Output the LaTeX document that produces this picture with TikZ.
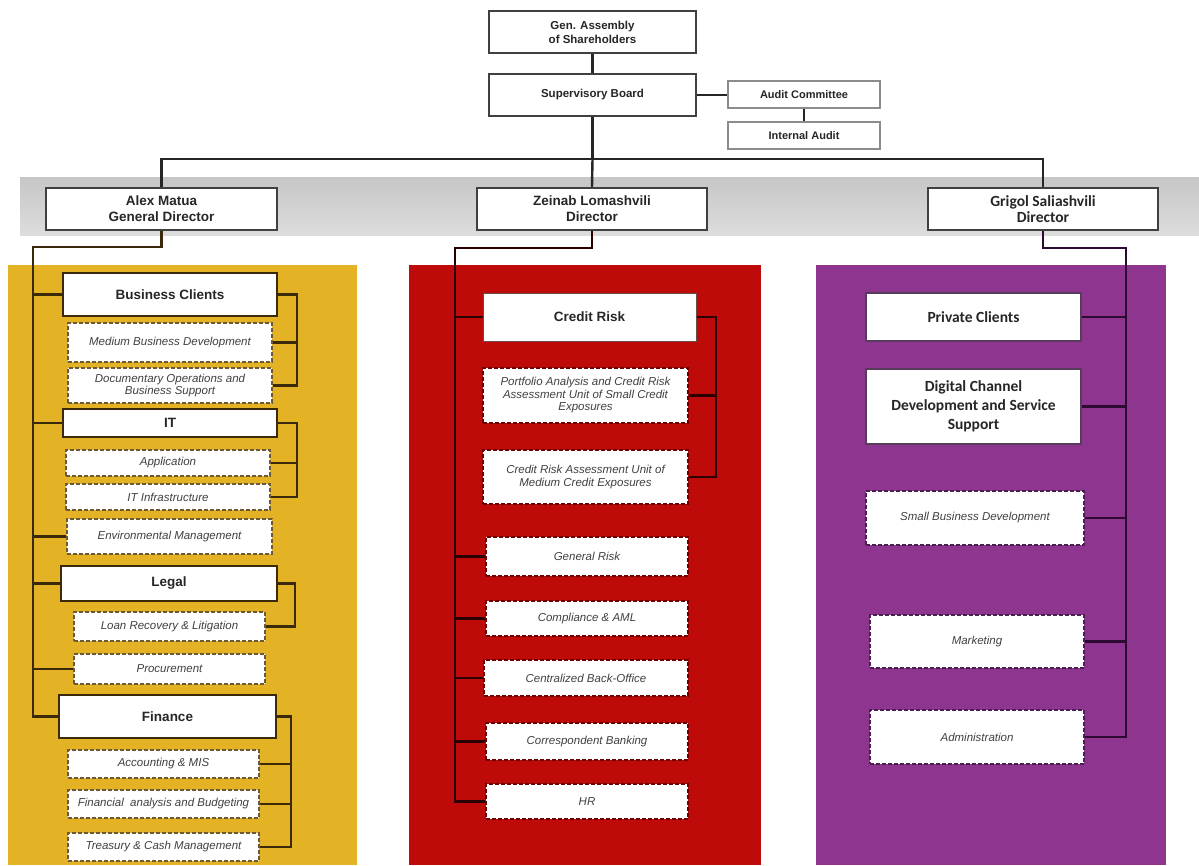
\documentclass[tikz,border=0pt]{standalone}
\usepackage{fontspec}
\setmainfont{Liberation Sans}
\newfontfamily\carl{Carlito}
\definecolor{panY}{HTML}{E3B325}
\definecolor{panR}{HTML}{BF0A0A}
\definecolor{panP}{HTML}{8E358F}
\definecolor{lnY}{HTML}{3B2A0A}
\definecolor{lnR}{HTML}{2A0000}
\definecolor{lnP}{HTML}{2D0A33}
\definecolor{dashY}{HTML}{6B5A3A}
\definecolor{dashR}{HTML}{6A0000}
\definecolor{dashP}{HTML}{4A2050}
\definecolor{txt}{HTML}{404040}
\definecolor{bandTop}{HTML}{C6C6C6}
\definecolor{bandBot}{HTML}{DDDDDD}
\newcommand\orgbox[7]{\node[#2, minimum width={#5-#3}, minimum height={#6-#4}] (#1) at ({(#3+#5)/2},{(#4+#6)/2}) {#7};}
\begin{document}
\begin{tikzpicture}[x=1pt,y=-1pt,
  topbox/.style={draw=black!75, line width=2.5pt, fill=white, inner sep=0pt, align=center, text=black!85, font=\bfseries\fontsize{11.5}{14}\selectfont},
  auditbox/.style={draw=black!45, line width=1.4pt, fill=white, inner sep=0pt, text=black!85, font=\bfseries\fontsize{11}{13}\selectfont},
  dirbox/.style={draw=black!75, line width=2.2pt, fill=white, inner sep=0pt, align=center, text=black!85, font=\bfseries\fontsize{13.5}{16}\selectfont},
  headY/.style={draw=lnY, line width=2pt, fill=white, inner sep=0pt, text=black!85, font=\bfseries\fontsize{13.5}{16}\selectfont},
  headR/.style={draw=lnR!70, line width=1pt, fill=white, inner sep=0pt, text=black!85, font=\bfseries\fontsize{13.5}{16}\selectfont},
  headP/.style={draw=lnP!80, line width=1.2pt, fill=white, inner sep=0pt, align=center, text=black!85, font=\carl\bfseries\fontsize{15.5}{19}\selectfont},
  unitbox/.style={fill=white, dashed, dash pattern=on 4pt off 2pt, line width=1.4pt, inner sep=0pt, align=center, text=txt, font=\itshape\fontsize{11.5}{12.5}\selectfont},
  unitY/.style={unitbox, draw=dashY},
  unitR/.style={unitbox, draw=dashR},
  unitP/.style={unitbox, draw=dashP},
  conn/.style={line width=2.4pt, draw=black!85},
  connY/.style={line width=2.4pt, draw=lnY},
  connR/.style={line width=2.4pt, draw=lnR},
  connP/.style={line width=2.4pt, draw=lnP}]
\useasboundingbox (0,0) rectangle (1199,865);
\fill[white] (0,0) rectangle (1199,865);
% background band and panels
\shade[top color=bandTop, bottom color=bandBot] (20,177) rectangle (1199,235);
\fill[panY] (8,265) rectangle (357,865);
\fill[panR] (409,265) rectangle (761,865);
\fill[panP] (816,265) rectangle (1166,865);

\coordinate (hub) at (592.5,159);
\coordinate (ls) at (33,247);
\coordinate (ms) at (455,248);
\coordinate (rs) at (1126,248);
\coordinate (bcR) at (297,0);
\coordinate (itR) at (297,0);
\coordinate (lgR) at (295,0);
\coordinate (fnR) at (291,0);
\coordinate (crR) at (716,0);

% top boxes
\orgbox{ga}{topbox}{489}{11}{696}{53}{Gen. Assembly\\of Shareholders}
\orgbox{sb}{topbox}{489}{74}{696}{116}{Supervisory Board}
\orgbox{ac}{auditbox}{728}{81}{880}{108}{Audit Committee}
\orgbox{ia}{auditbox}{728}{122}{880}{149}{Internal Audit}
\orgbox{alex}{dirbox}{46}{188}{277}{230}{Alex Matua\\General Director}
\orgbox{zein}{dirbox}{477}{188}{707}{230}{Zeinab Lomashvili\\Director}
\orgbox{grig}{dirbox}{928}{188}{1158}{230}{\carl\fontsize{15.5}{17}\selectfont Grigol Saliashvili\\\carl\fontsize{15.5}{17}\selectfont Director}

% left column boxes
\orgbox{bc}{headY}{63}{273}{277}{316}{Business Clients}
\orgbox{mbd}{unitY}{68}{323}{272}{362}{Medium Business Development}
\orgbox{doc}{unitY}{68}{368}{272}{403}{Documentary Operations and\\Business Support}
\orgbox{it}{headY}{63}{409}{277}{437}{IT}
\orgbox{app}{unitY}{66}{450}{270}{476}{Application}
\orgbox{itinf}{unitY}{66}{484}{270}{510}{IT Infrastructure}
\orgbox{env}{unitY}{67}{519}{272}{554}{Environmental Management}
\orgbox{legal}{headY}{61}{566}{277}{601}{Legal}
\orgbox{loan}{unitY}{74}{612}{265}{641}{Loan Recovery \& Litigation}
\orgbox{proc}{unitY}{74}{654}{265}{684}{Procurement}
\orgbox{fin}{headY}{59}{695}{276}{738}{Finance}
\orgbox{acc}{unitY}{68}{750}{259}{778}{Accounting \& MIS}
\orgbox{fab}{unitY}{68}{790}{259}{818}{Financial\ \ analysis and Budgeting}
\orgbox{tcm}{unitY}{68}{833}{259}{861}{Treasury \& Cash Management}

% middle column boxes
\orgbox{cr}{headR}{483}{293}{696}{341}{Credit Risk}
\orgbox{pa}{unitR}{483}{368}{688}{423}{Portfolio Analysis and Credit Risk\\Assessment Unit of Small Credit\\Exposures}
\orgbox{cra}{unitR}{483}{450}{688}{504}{Credit Risk Assessment Unit of\\Medium Credit Exposures}
\orgbox{gr}{unitR}{486}{537}{688}{576}{General Risk}
\orgbox{comp}{unitR}{486}{601}{688}{636}{Compliance \& AML}
\orgbox{cbo}{unitR}{484}{660}{688}{696}{Centralized Back-Office}
\orgbox{cb}{unitR}{486}{723}{688}{760}{Correspondent Banking}
\orgbox{hr}{unitR}{486}{784}{688}{819}{HR}

% right column boxes
\orgbox{pc}{headP}{866}{293}{1081}{341}{Private Clients}
\orgbox{dc}{headP}{866}{369}{1081}{444}{Digital Channel\\Development and Service\\Support}
\orgbox{sbd}{unitP}{866}{491}{1084}{545}{Small Business Development}
\orgbox{mkt}{unitP}{870}{615}{1084}{668}{Marketing}
\orgbox{adm}{unitP}{870}{710}{1084}{764}{Administration}

% top connectors
\draw[conn] (ga) -- (sb);
\draw[conn] (sb.east) -- (ac.west |- sb.east);
\draw[conn] (ac) -- (ia);
\draw[conn] (sb.south) -- (hub);
\draw[conn] (alex.north) |- (hub) -| (grig.north);
\draw[conn] (hub) -- (zein.north);

% left spine
\draw[connY] (alex.south) |- (ls) -- (ls |- fin.west) -- (fin.west);
\foreach \n in {bc,it,env,legal,proc} \draw[connY] (ls |- \n.west) -- (\n.west);
\draw[connY] (bc.east) -| (bcR |- doc.east) -- (doc.east);
\draw[connY] (mbd.east) -- (bcR |- mbd.east);
\draw[connY] (it.east) -| (itR |- itinf.east) -- (itinf.east);
\draw[connY] (app.east) -- (itR |- app.east);
\draw[connY] (legal.east) -| (lgR |- loan.east) -- (loan.east);
\draw[connY] (fin.east) -| (fnR |- tcm.east) -- (tcm.east);
\draw[connY] (acc.east) -- (fnR |- acc.east);
\draw[connY] (fab.east) -- (fnR |- fab.east);

% middle spine
\draw[connR] (zein.south) |- (ms) -- (ms |- hr.west) -- (hr.west);
\foreach \n in {cr,gr,comp,cbo,cb} \draw[connR] (ms |- \n.west) -- (\n.west);
\draw[connR] (cr.east) -| (crR |- cra.east) -- (cra.east);
\draw[connR] (pa.east) -- (crR |- pa.east);

% right spine
\draw[connP] (grig.south) |- (rs) -- (rs |- adm.east) -- (adm.east);
\foreach \n in {pc,dc,sbd,mkt} \draw[connP] (rs |- \n.east) -- (\n.east);
\end{tikzpicture}
\end{document}
